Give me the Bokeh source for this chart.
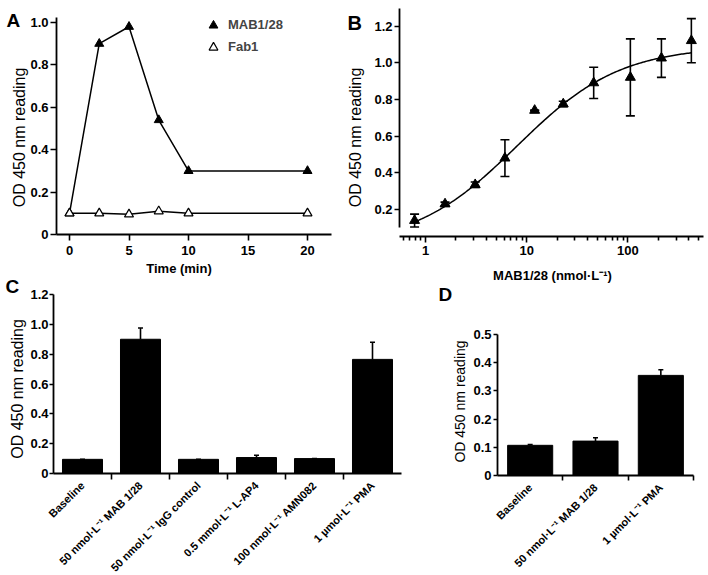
import math
import numpy as np
from bokeh.plotting import figure
from bokeh.layouts import column, row
from bokeh.models import (Range1d, FixedTicker, NumeralTickFormatter, Label, Legend,
                          LegendItem, ColumnDataSource, Whisker, TeeHead)
from bokeh.embed import file_html
from bokeh.resources import INLINE

FONT = "Liberation Sans"

# ---------------- data ----------------
# Panel A: time course
time_min = [0, 2.5, 5, 7.5, 10, 20]
mab_time = [0.10, 0.90, 0.98, 0.54, 0.30, 0.30]
fab_time = [0.10, 0.10, 0.095, 0.11, 0.10, 0.10]
a_xticks = [0, 5, 10, 15, 20]
a_yticks = [0, 0.2, 0.4, 0.6, 0.8, 1.0]

# Panel B: concentration response
conc = [0.78, 1.56, 3.1, 6.1, 12, 23, 46, 106, 215, 425]
od_conc = [0.14, 0.23, 0.335, 0.48, 0.74, 0.775, 0.89, 0.92, 1.025, 1.12]
err_conc = [0.035, 0.01, 0.015, 0.10, 0.0, 0.015, 0.085, 0.21, 0.105, 0.12]
fit_bottom, fit_top, fit_ec50, fit_hill = 0.0, 1.09, 8.0, 0.85
b_xticks = [1, 10, 100]
b_yticks = [0.2, 0.4, 0.6, 0.8, 1.0, 1.2]

# Panel C
c_labels = ["Baseline", "50 nmol·L⁻¹ MAB 1/28", "50 nmol·L⁻¹ IgG control",
            "0.5 mmol·L⁻¹ L-AP4", "100 nmol·L⁻¹ AMN082", "1 µmol·L⁻¹ PMA"]
c_values = [0.095, 0.90, 0.095, 0.107, 0.10, 0.765]
c_errors = [0.0, 0.075, 0.0, 0.015, 0.0, 0.115]
c_yticks = [0, 0.2, 0.4, 0.6, 0.8, 1.0, 1.2]

# Panel D
d_labels = ["Baseline", "50 nmol·L⁻¹ MAB 1/28", "1 µmol·L⁻¹ PMA"]
d_values = [0.107, 0.122, 0.355]
d_errors = [0.003, 0.012, 0.02]
d_yticks = [0, 0.1, 0.2, 0.3, 0.4, 0.5]

ROW1_H = 283          # top row canvas: page y 0..283
ROW2_TOP = 272        # bottom row canvas: page y 272..575 (rows overlap a little)
ROW2_H = 575 - ROW2_TOP
SPLIT_A = 340         # page x where panel B starts
SPLIT_C = 420         # page x where panel D starts


def make_fig(w, h, xr, yr, x_axis_type="linear"):
    p = figure(width=w, height=h, x_range=xr, y_range=yr, x_axis_type=x_axis_type,
               output_backend="svg", toolbar_location=None,
               min_border_left=0, min_border_right=0, min_border_top=0, min_border_bottom=0)
    p.outline_line_color = None
    p.grid.visible = False
    p.background_fill_color = None
    p.border_fill_color = None
    for ax in p.axis:
        ax.axis_line_width = 1.8
        ax.axis_line_color = "black"
        ax.major_tick_line_width = 1.6
        ax.major_tick_line_color = "black"
        ax.minor_tick_line_color = None
        ax.major_tick_in = 0
        ax.major_tick_out = 5
        ax.major_label_text_font = FONT
        ax.major_label_text_font_style = "bold"
        ax.major_label_text_font_size = "13px"
        ax.major_label_text_color = "black"
        ax.major_label_standoff = 2
    return p


def lab(p, text, x, y, size, bold=False, angle=0, align="left", baseline="alphabetic"):
    p.add_layout(Label(x=x, y=y, text=text, text_font=FONT, text_font_size=size,
                       text_font_style="bold" if bold else "normal", angle=angle,
                       text_align=align, text_baseline=baseline, text_color="black"))


# ---------------- Panel A ----------------
# page px: axis x 56..331 (0 -> 69, 20 -> 307), y axis 17..234 (0 -> 234, 1 -> 22)
ax_s = 11.9
a_x0 = -(69 - 56) / ax_s
a_x1 = 20 + (331 - 307) / ax_s
ay_s = 212.0
a_y1 = (234 - 17) / ay_s


def axp(px):
    return a_x0 + (px - 56) / ax_s


def ayp(py):
    return (234 - py) / ay_s


pa = make_fig(SPLIT_A, ROW1_H, Range1d(axp(0), axp(SPLIT_A)), Range1d(ayp(ROW1_H), ayp(0)))
pa.xaxis.fixed_location = 0
pa.yaxis.fixed_location = a_x0
pa.xaxis.bounds = (a_x0, a_x1)
pa.yaxis.bounds = (0, a_y1)
pa.xaxis.ticker = FixedTicker(ticks=a_xticks)
pa.yaxis.ticker = FixedTicker(ticks=a_yticks)
pa.yaxis.formatter = NumeralTickFormatter(format="0.0")
pa.yaxis.major_label_overrides = {0: "0"}
pa.xaxis.major_tick_out = 6
pa.yaxis.major_tick_out = 6
pa.xaxis.major_label_standoff = 5

pa.line(time_min, mab_time, line_color="black", line_width=1.5)
pa.line(time_min, fab_time, line_color="black", line_width=1.5)
r_mab = pa.scatter(time_min, mab_time, marker="triangle", size=9, fill_color="black",
                   line_color="black")
r_fab = pa.scatter(time_min, fab_time, marker="triangle", size=9, fill_color="white",
                   line_color="black", line_width=1.2)
# legend location: px from the frame's bottom-left (frame = whole canvas)
leg = Legend(items=[LegendItem(label="MAB1/28", renderers=[r_mab]),
                    LegendItem(label="Fab1", renderers=[r_fab])],
             location=(202, ROW1_H - 57.5), glyph_width=22, glyph_height=22, spacing=0,
             padding=0, margin=0, border_line_color=None, background_fill_alpha=0,
             label_standoff=4, label_text_font=FONT, label_text_font_style="bold",
             label_text_font_size="13px")
pa.add_layout(leg)

lab(pa, "A", axp(6), ayp(19.5), "19px", bold=True)
lab(pa, "Time (min)", axp(178.5), ayp(268), "13px", bold=True, align="center")
lab(pa, "OD 450 nm reading", axp(19), ayp(137), "16px", angle=math.pi / 2, align="center")

# ---------------- Panel B ----------------
# axis x 399..703 (log: px = 425 + 101.15*log10 x), y 8..236 (0.2 -> 209, 1.2 -> 25.5)
bx_s = 101.15
by_s = 183.5


def bxp(px):
    return 10 ** ((px - 425) / bx_s)


def byp(py):
    return 0.2 + (209 - py) / by_s


b_x0, b_x1 = bxp(399), bxp(703)
b_ytop = byp(8)
pb = make_fig(708 - SPLIT_A, ROW1_H, Range1d(bxp(SPLIT_A), bxp(708)),
              Range1d(byp(ROW1_H), byp(0)), x_axis_type="log")
pb.xaxis.fixed_location = byp(236)
pb.yaxis.fixed_location = b_x0
pb.xaxis.bounds = (b_x0, b_x1)
pb.yaxis.bounds = (0.1, b_ytop)
minor_b = [m * d for d in (0.1, 1, 10, 100) for m in range(2, 10) if b_x0 < m * d < b_x1]
pb.xaxis.ticker = FixedTicker(ticks=b_xticks, minor_ticks=minor_b)
pb.xaxis.formatter = NumeralTickFormatter(format="0")
pb.xaxis.minor_tick_line_color = "black"
pb.xaxis.minor_tick_line_width = 1.6
pb.xaxis.minor_tick_in = 0
pb.xaxis.minor_tick_out = 4
pb.xaxis.major_tick_out = 6
pb.xaxis.major_label_standoff = 3
pb.yaxis.ticker = FixedTicker(ticks=b_yticks)
pb.yaxis.formatter = NumeralTickFormatter(format="0.0")

fit_x = np.geomspace(conc[0], conc[-1], 200)
fit_y = fit_bottom + (fit_top - fit_bottom) / (1 + (fit_ec50 / fit_x) ** fit_hill)
pb.line(fit_x, fit_y, line_color="black", line_width=1.5)
src_b = ColumnDataSource(dict(x=conc, y=od_conc,
                              lo=[v - e for v, e in zip(od_conc, err_conc)],
                              hi=[v + e for v, e in zip(od_conc, err_conc)]))
pb.add_layout(Whisker(source=src_b, base="x", lower="lo", upper="hi", line_width=1.6,
                      line_color="black",
                      upper_head=TeeHead(size=9, line_width=1.6, line_color="black"),
                      lower_head=TeeHead(size=9, line_width=1.6, line_color="black")))
pb.scatter("x", "y", source=src_b, marker="triangle", size=10, fill_color="black",
           line_color="black")

lab(pb, "B", bxp(347), byp(22), "20px", bold=True)
lab(pb, "OD 450 nm reading", bxp(355), byp(137), "16px", angle=math.pi / 2, align="center")
lab(pb, "MAB1/28 (nmol·L⁻¹)", bxp(552), byp(275), "13px", bold=True, align="center")

# ---------------- Panel C ----------------
# axis x 53..401 (0..6), y 294..473 (1.2..0)
cx_s = 58.0
cy_s = (473 - 294) / 1.2


def cxp(px):
    return (px - 53) / cx_s


def cyp(py):
    return (473 - py) / cy_s


pc = make_fig(SPLIT_C, ROW2_H, Range1d(cxp(0), cxp(SPLIT_C)), Range1d(cyp(575), cyp(ROW2_TOP)))
pc.xaxis.fixed_location = 0
pc.yaxis.fixed_location = 0
pc.xaxis.bounds = (0, len(c_labels))
pc.yaxis.bounds = (0, c_yticks[-1])
c_pos = [i + 0.5 for i in range(len(c_labels))]
pc.xaxis.ticker = FixedTicker(ticks=c_pos, minor_ticks=list(range(1, len(c_labels))))
pc.xaxis.major_label_overrides = dict(zip(c_pos, c_labels))
pc.xaxis.major_label_orientation = math.pi / 4
pc.xaxis.major_tick_out = 0
pc.xaxis.minor_tick_line_color = "black"
pc.xaxis.minor_tick_line_width = 1.6
pc.xaxis.minor_tick_in = 0
pc.xaxis.minor_tick_out = 6
pc.xaxis.major_label_text_font_size = "11px"
pc.xaxis.major_label_standoff = 4
pc.yaxis.ticker = FixedTicker(ticks=c_yticks)
pc.yaxis.formatter = NumeralTickFormatter(format="0.0")
pc.yaxis.major_label_overrides = {0: "0"}
pc.yaxis.major_tick_out = 4
pc.yaxis.major_label_standoff = 1

src_c = ColumnDataSource(dict(x=c_pos, top=c_values,
                              hi=[v + e for v, e in zip(c_values, c_errors)]))
pc.add_layout(Whisker(source=src_c, base="x", lower="top", upper="hi", line_width=1.6,
                      line_color="black",
                      upper_head=TeeHead(size=5, line_width=1.6, line_color="black"),
                      lower_head=None))
pc.vbar(x="x", top="top", width=0.69, source=src_c, fill_color="black", line_color="black")

lab(pc, "C", cxp(5), cyp(285.5), "19px", bold=True)
lab(pc, "OD 450 nm reading", cxp(17), cyp(388.5), "16px", angle=math.pi / 2, align="center")

# ---------------- Panel D ----------------
# axis x 497..693 (0..3), y 334..475 (0.5..0)
dx_s = (693 - 497) / 3.0
dy_s = (475 - 334) / 0.5


def dxp(px):
    return (px - 497) / dx_s


def dyp(py):
    return (475 - py) / dy_s


pd_ = make_fig(708 - SPLIT_C, ROW2_H, Range1d(dxp(SPLIT_C), dxp(708)),
               Range1d(dyp(575), dyp(ROW2_TOP)))
pd_.xaxis.fixed_location = 0
pd_.yaxis.fixed_location = 0
pd_.xaxis.bounds = (0, len(d_labels))
pd_.yaxis.bounds = (0, d_yticks[-1])
d_pos = [i + 0.5 for i in range(len(d_labels))]
pd_.xaxis.ticker = FixedTicker(ticks=d_pos, minor_ticks=list(range(1, len(d_labels) + 1)))
pd_.xaxis.major_label_overrides = dict(zip(d_pos, d_labels))
pd_.xaxis.major_label_orientation = math.pi / 4
pd_.xaxis.major_tick_out = 0
pd_.xaxis.minor_tick_line_color = "black"
pd_.xaxis.minor_tick_line_width = 1.6
pd_.xaxis.minor_tick_in = 0
pd_.xaxis.minor_tick_out = 5
pd_.xaxis.major_label_text_font_size = "11px"
pd_.xaxis.major_label_standoff = 5
pd_.yaxis.ticker = FixedTicker(ticks=d_yticks)
pd_.yaxis.formatter = NumeralTickFormatter(format="0.0")
pd_.yaxis.major_label_overrides = {0: "0"}
pd_.yaxis.major_tick_out = 4
pd_.yaxis.major_label_standoff = 2

src_d = ColumnDataSource(dict(x=d_pos, top=d_values,
                              hi=[v + e for v, e in zip(d_values, d_errors)]))
pd_.add_layout(Whisker(source=src_d, base="x", lower="top", upper="hi", line_width=1.6,
                       line_color="black",
                       upper_head=TeeHead(size=5, line_width=1.6, line_color="black"),
                       lower_head=None))
pd_.vbar(x="x", top="top", width=0.69, source=src_d, fill_color="black", line_color="black")

lab(pd_, "D", dxp(438), dyp(294), "19px", bold=True)
lab(pd_, "OD 450 nm reading", dxp(459), dyp(401), "14px", angle=math.pi / 2, align="center")

top_row = row(pa, pb)
bottom_row = row(pc, pd_, margin=(ROW2_TOP - ROW1_H, 0, 0, 0))
layout = column(top_row, bottom_row)
open("out.html", "w").write(file_html(layout, INLINE))
